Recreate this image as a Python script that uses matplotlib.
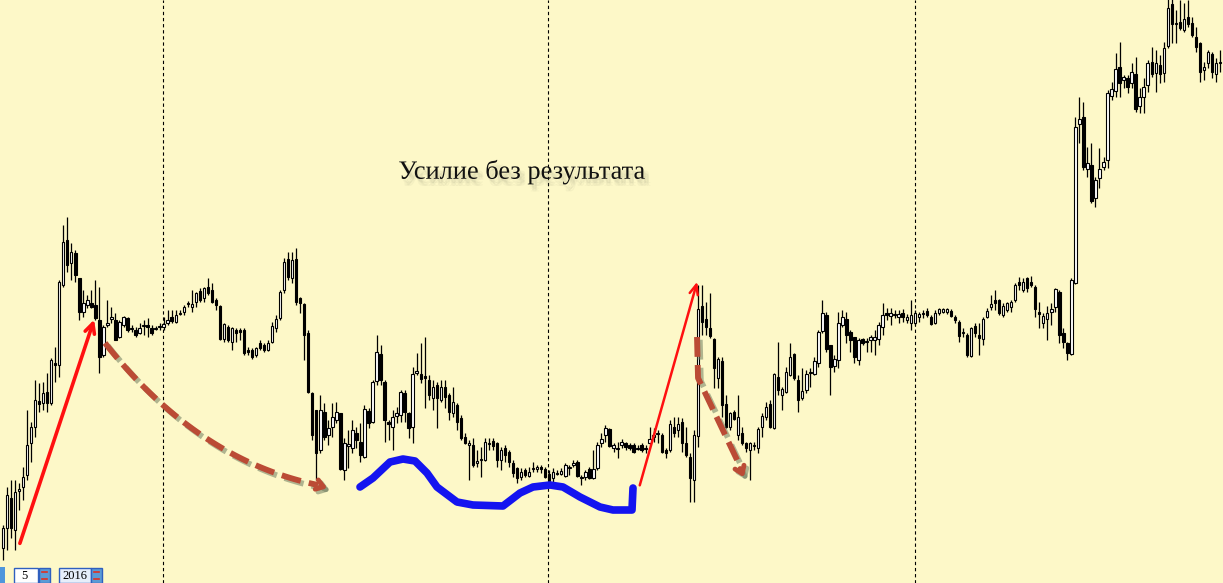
import matplotlib
matplotlib.use('Agg')
import matplotlib.pyplot as plt
import matplotlib.patheffects as pe
from matplotlib.patches import Rectangle
import numpy as np

# candle levels, in screen units (0 = top edge, 583 = bottom)
opens = [
    548, 528, 498, 530, 491, 487, 475, 443, 427, 401, 403, 392, 403, 363, 365, 285, 240, 263, 253, 278, 312, 305,
    303, 305, 320, 355, 325, 319, 320, 337, 325, 318, 329, 330, 333, 326, 325, 328, 329, 327, 327, 323, 317,
    322, 314, 312, 304, 307, 302, 291, 298, 287, 290, 300, 306, 339, 327, 342, 330, 330, 330, 350, 350, 355, 343,
    345, 350, 342, 328, 318, 290, 259, 278, 259, 298, 304, 333, 393, 410, 450, 412, 435, 427, 420, 413, 470,
    446, 448, 433, 442, 457, 411, 422, 381, 354, 382, 422, 427, 416, 415, 393, 413, 427, 373, 374, 376, 380, 398,
    385, 400, 387, 395, 413, 405, 418, 437, 445, 445, 463, 460, 460, 444, 441, 443, 460, 448, 452, 463, 468, 477,
    470, 476, 469, 469, 467, 469, 474, 478, 474, 474, 476, 468, 465, 462, 478, 477, 469, 478, 468, 443, 435, 429,
    448, 449, 445, 443, 445, 445, 449, 445, 449, 443, 437, 434, 435, 450, 450, 427, 430, 422, 443, 457, 480,
    436, 306, 319, 328, 339, 378, 361, 404, 427, 412, 435, 433, 443, 450, 446, 448, 427, 417, 404, 428, 377, 395,
    392, 375, 354, 380, 398, 390, 373, 374, 363, 331, 315, 345, 366, 360, 325, 319, 332, 337, 360, 339, 342, 340,
    340, 339, 327, 313, 316, 315, 317, 313, 320, 323, 323, 317, 314, 311, 317, 323, 313, 312, 312, 311, 317, 322,
    333, 335, 356, 326, 335, 339, 317, 307, 300, 300, 315, 310, 307, 300, 282, 290, 278, 282, 287, 312, 323, 319,
    312, 307, 292, 333, 343, 354, 283, 124, 117, 169, 165, 198, 178, 167, 160, 96, 91, 67, 80, 78, 83, 74,
    106, 97, 85, 62, 73, 65, 73, 46, 4, 24, 22, 30, 17, 23, 37, 43, 70, 63, 54, 74, 63,
]
highs = [
    525, 487, 480, 480, 483, 467, 410, 422, 380, 383, 382, 373, 358, 347, 280, 225, 217, 243, 250, 278, 290, 295,
    290, 280, 287, 325, 300, 307, 313, 320, 316, 317, 325, 327, 323, 320, 318, 325, 326, 323, 317, 310, 310,
    310, 310, 305, 301, 290, 292, 288, 287, 278, 283, 298, 305, 323, 325, 327, 328, 328, 328, 347, 348, 347, 340,
    343, 340, 322, 315, 290, 258, 252, 252, 248, 297, 303, 330, 392, 410, 395, 403, 420, 403, 402, 413, 438,
    430, 420, 427, 423, 405, 408, 380, 335, 345, 380, 420, 410, 407, 390, 390, 412, 367, 353, 343, 337, 375, 380,
    382, 380, 380, 393, 387, 403, 415, 433, 440, 438, 450, 447, 438, 438, 438, 442, 447, 445, 450, 460, 467, 468,
    468, 467, 462, 465, 465, 467, 470, 468, 470, 468, 463, 465, 460, 460, 475, 470, 467, 450, 442, 433, 425, 428,
    443, 442, 439, 442, 443, 443, 445, 443, 445, 427, 428, 430, 433, 448, 420, 417, 417, 418, 427, 453, 430,
    285, 285, 302, 293, 338, 357, 357, 395, 412, 410, 395, 427, 442, 442, 442, 427, 413, 402, 400, 373, 342, 387,
    367, 343, 353, 375, 368, 370, 368, 357, 330, 300, 312, 345, 355, 312, 310, 312, 330, 337, 338, 338, 338, 335,
    330, 322, 303, 308, 308, 310, 310, 309, 314, 300, 310, 312, 310, 308, 315, 310, 308, 308, 308, 309, 315, 320,
    328, 333, 327, 323, 323, 317, 308, 295, 290, 299, 303, 302, 300, 283, 277, 278, 277, 276, 285, 302, 313, 306,
    303, 288, 290, 328, 342, 278, 117, 97, 102, 147, 143, 177, 148, 157, 90, 82, 53, 42, 75, 75, 63, 57,
    88, 78, 60, 47, 50, 55, 42, -2, -2, 10, 0, 3, 0, 17, 27, 42, 62, 50, 52, 58, 50,
]
lows = [
    560, 550, 538, 550, 510, 500, 480, 462, 437, 412, 410, 412, 405, 382, 377, 287, 272, 280, 282, 320, 317, 308,
    308, 320, 373, 357, 327, 323, 340, 338, 327, 332, 332, 337, 334, 335, 337, 335, 330, 330, 330, 325, 323,
    323, 315, 315, 307, 312, 307, 302, 302, 295, 303, 310, 340, 342, 342, 350, 342, 340, 355, 355, 359, 357, 350,
    352, 351, 343, 332, 320, 293, 280, 283, 305, 313, 360, 393, 440, 480, 453, 440, 445, 437, 423, 470, 480,
    468, 453, 448, 462, 458, 428, 423, 385, 385, 442, 440, 450, 423, 422, 422, 438, 443, 375, 383, 408, 400, 410,
    428, 402, 408, 420, 417, 430, 440, 444, 480, 467, 467, 477, 461, 450, 450, 467, 470, 462, 467, 477, 483, 480,
    477, 477, 472, 472, 473, 478, 482, 482, 475, 475, 477, 475, 467, 477, 485, 480, 479, 479, 470, 447, 442, 447,
    452, 458, 448, 450, 450, 453, 450, 452, 453, 445, 442, 443, 453, 458, 452, 437, 437, 452, 457, 502, 502,
    447, 335, 335, 338, 388, 388, 417, 428, 430, 420, 440, 445, 452, 480, 450, 453, 437, 420, 428, 429, 395, 410,
    393, 376, 380, 412, 400, 393, 387, 375, 367, 333, 352, 395, 372, 368, 327, 343, 352, 363, 365, 345, 352, 352,
    355, 345, 335, 320, 325, 318, 323, 322, 323, 330, 325, 322, 318, 317, 325, 324, 315, 313, 314, 317, 323, 342,
    337, 357, 357, 337, 355, 345, 318, 310, 310, 315, 317, 312, 312, 302, 290, 292, 292, 287, 317, 328, 328, 340,
    325, 312, 343, 348, 360, 355, 284, 143, 170, 177, 203, 207, 188, 170, 168, 100, 97, 97, 88, 93, 88, 112,
    113, 113, 92, 77, 92, 83, 82, 48, 43, 43, 30, 32, 27, 37, 52, 82, 80, 68, 78, 82, 72,
]
closes = [
    528, 495, 528, 492, 489, 477, 445, 427, 400, 404, 393, 403, 360, 365, 282, 242, 265, 252, 275, 312, 303, 300,
    307, 318, 357, 327, 323, 317, 340, 322, 317, 330, 328, 335, 328, 325, 327, 333, 328, 326, 324, 320, 321,
    315, 313, 307, 303, 304, 293, 300, 288, 293, 302, 305, 339, 324, 340, 328, 333, 332, 353, 352, 357, 348, 348,
    350, 343, 326, 319, 292, 262, 277, 260, 302, 303, 335, 392, 435, 453, 410, 437, 428, 417, 412, 469, 443,
    444, 430, 440, 455, 409, 423, 382, 352, 380, 420, 424, 417, 413, 392, 412, 428, 374, 371, 379, 378, 395, 387,
    398, 387, 397, 412, 402, 422, 438, 443, 443, 465, 461, 459, 442, 443, 446, 460, 450, 455, 462, 473, 478, 472,
    475, 472, 468, 467, 469, 477, 481, 472, 473, 471, 465, 467, 463, 476, 477, 472, 478, 469, 445, 439, 428, 446,
    445, 448, 442, 447, 448, 452, 448, 450, 448, 439, 435, 433, 452, 453, 424, 433, 424, 443, 455, 478, 435,
    309, 322, 327, 336, 368, 359, 405, 427, 413, 419, 417, 443, 448, 443, 445, 429, 416, 407, 427, 374, 390, 389,
    372, 357, 378, 400, 391, 374, 372, 361, 332, 313, 349, 367, 359, 323, 317, 335, 340, 357, 340, 343, 341, 337,
    337, 325, 315, 315, 313, 314, 314, 317, 317, 315, 313, 314, 313, 315, 324, 313, 309, 309, 309, 316, 320, 336,
    332, 355, 328, 333, 338, 319, 311, 304, 303, 313, 306, 303, 302, 285, 285, 282, 288, 285, 309, 314, 316, 313,
    309, 289, 335, 342, 353, 280, 127, 119, 167, 163, 201, 180, 169, 162, 93, 89, 69, 83, 77, 87, 72, 109,
    97, 87, 63, 74, 63, 74, 48, 8, 24, 23, 28, 19, 24, 35, 47, 72, 67, 52, 72, 63, 62,
]
# period separators (candle index)
separators = [39.9, 135.6, 227.0]
caption = 'Усилие без результата'

bg_color = '#fdf8c8'
brown = '#bb4b35'
blue = '#1414f0'

fig = plt.figure(figsize=(12.23, 5.83), dpi=100)
fig.patch.set_facecolor(bg_color)

ax = fig.add_axes([0, 0, 1, 1])
ax.set_facecolor(bg_color)

o = np.array(opens)
c = np.array(closes)
x = np.arange(len(c))

for s in separators:
    ax.axvline(s, color='black', lw=0.8, linestyle=(0, (3, 2.5)), zorder=1)

ax.vlines(x, lows, highs, color='black', lw=0.9, zorder=2)

up = c <= o
bottoms = np.minimum(o, c)
heights = np.maximum(np.abs(c - o), 0.6)
ax.bar(x[up], heights[up], bottom=bottoms[up], width=0.6,
       color='white', edgecolor='black', lw=0.8, zorder=3)
ax.bar(x[~up], heights[~up], bottom=bottoms[~up], width=0.6,
       color='black', edgecolor='black', lw=0.8, zorder=3)

ax.set_xlim(-0.75, len(c) - 0.25)
ax.set_ylim(583, 0)
ax.axis('off')

# overlay in screen pixels for the hand-drawn marks
ov = fig.add_axes([0, 0, 1, 1])
ov.set_xlim(0, 1223)
ov.set_ylim(583, 0)
ov.axis('off')
ov.patch.set_alpha(0)

shadow = [pe.SimpleLineShadow(offset=(2, -2), shadow_color='#6f7d60', alpha=0.55), pe.Normal()]

# red arrows
ov.annotate('', xy=(95, 317), xytext=(19, 546),
            arrowprops=dict(arrowstyle='->,head_length=0.7,head_width=0.35', lw=2.6, color='#ff1010'))
ov.annotate('', xy=(698, 279), xytext=(639, 488),
            arrowprops=dict(arrowstyle='->,head_length=0.7,head_width=0.3', lw=1.8, color='#ff1010'))

# brown dashed arrow, curved
t = np.linspace(0, 1, 60)
p0, p1, p2 = np.array([105, 343]), np.array([197, 460]), np.array([318, 485])
curve = np.outer((1 - t) ** 2, p0) + np.outer(2 * (1 - t) * t, p1) + np.outer(t ** 2, p2)
ov.plot(curve[:, 0], curve[:, 1], color=brown, lw=4.2, linestyle=(0, (3.4, 1.4)),
        solid_capstyle='butt', path_effects=shadow)
ov.annotate('', xy=(330, 489), xytext=(318, 485),
            arrowprops=dict(arrowstyle='->,head_length=0.5,head_width=0.35', lw=3.5, color=brown,
                            path_effects=shadow))

# brown dashed arrow, bent
ov.plot([697, 698, 739], [337, 378, 464], color=brown, lw=4.2, linestyle=(0, (3.4, 1.4)),
        path_effects=shadow)
ov.annotate('', xy=(745, 480), xytext=(739, 466),
            arrowprops=dict(arrowstyle='->,head_length=0.5,head_width=0.35', lw=3.5, color=brown,
                            path_effects=shadow))

# blue hand line
bx = [360, 373, 390, 403, 415, 427, 437, 457, 473, 503, 520, 533, 550, 563, 580, 600, 613, 632, 633]
by = [487, 478, 462, 459, 461, 473, 487, 502, 505, 506, 493, 487, 485, 487, 497, 507, 510, 510, 488]
ov.plot(bx, by, color=blue, lw=5.5, solid_capstyle='round', solid_joinstyle='round')

# soft drop shadow behind the caption
text_shadow = [pe.SimplePatchShadow(offset=(dx, dy), shadow_rgbFace='#8a8a70', alpha=0.07)
               for dx, dy in [(1, -2), (2, -3), (3, -4), (4, -5), (2, -5), (4, -3)]]
ov.text(522, 172, caption, ha='center', va='center', fontsize=19,
        family=['Liberation Serif', 'DejaVu Serif'], color='#111111',
        path_effects=text_shadow + [pe.Normal()])

# small date widgets in the corner
ov.add_patch(Rectangle((0, 567), 5, 16, facecolor='#4f96dc', edgecolor='none'))
ov.add_patch(Rectangle((14, 568), 24, 15, facecolor='white', edgecolor='#2f5fbf', lw=1))
ov.text(24, 576, '5', ha='center', va='center', fontsize=9, family='Liberation Serif')
ov.add_patch(Rectangle((39, 568), 11, 15, facecolor='#5b9bd5', edgecolor='#2f5fbf', lw=1))
ov.add_patch(Rectangle((59, 568), 32, 15, facecolor='#e6eefa', edgecolor='#2f5fbf', lw=1))
ov.text(75, 576, '2016', ha='center', va='center', fontsize=9, family='Liberation Serif')
ov.add_patch(Rectangle((91, 568), 11, 15, facecolor='#5b9bd5', edgecolor='#2f5fbf', lw=1))
for bxl in (39, 91):
    ov.plot([bxl + 3, bxl + 8], [572, 572], color='#e03020', lw=1.2)
    ov.plot([bxl + 3, bxl + 8], [579, 579], color='#e03020', lw=1.2)

fig.savefig('out.png', dpi=100, facecolor=bg_color)
